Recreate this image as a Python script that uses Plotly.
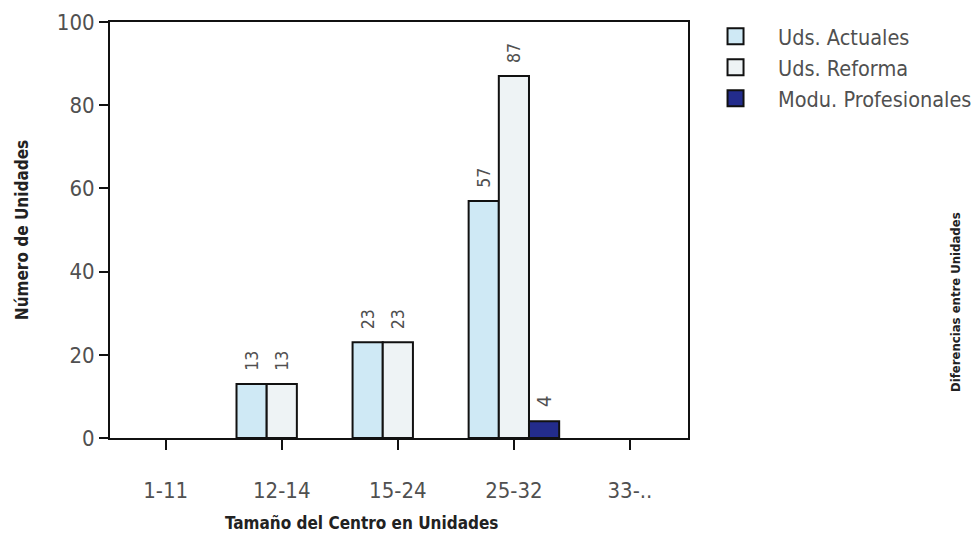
import plotly.graph_objects as go

categories = ["1-11", "12-14", "15-24", "25-32", "33-.."]
uds_actuales = [None, 13, 23, 57, None]
uds_reforma = [None, 13, 23, 87, None]
modu_profesionales = [None, None, None, 4, None]
y_ticks = [0, 20, 40, 60, 80, 100]

FONT = "DejaVu Sans Condensed, Roboto, sans-serif"
TXT = "#505050"

def labels(vals):
    return ["\u00a0\u00a0" + str(v) if v else "" for v in vals]

series = [
    ("Uds. Actuales", uds_actuales, "#cfe9f5"),
    ("Uds. Reforma", uds_reforma, "#eef3f5"),
    ("Modu. Profesionales", modu_profesionales, "#232c8c"),
]

fig = go.Figure()
for name, vals, col in series:
    fig.add_trace(go.Bar(
        x=categories, y=vals, name=name, showlegend=False,
        marker=dict(color=col, line=dict(color="#111111", width=2)),
        text=labels(vals), textposition="outside", textangle=-90,
        textfont=dict(family=FONT, size=20, color=TXT),
        cliponaxis=False,
    ))
for name, vals, col in series:
    fig.add_trace(go.Scatter(
        x=[None], y=[None], mode="markers", name=name,
        marker=dict(symbol="square", size=19, color=col,
                    line=dict(color="#111111", width=2)),
    ))

fig.update_layout(
    width=974, height=541,
    margin=dict(l=110, r=286, t=22, b=103, autoexpand=False),
    paper_bgcolor="white", plot_bgcolor="white",
    barmode="group", bargap=0.22, bargroupgap=0,
    font=dict(family=FONT, color=TXT, size=18),
    legend=dict(x=1.0087, y=1.015, xanchor="left", yanchor="top",
                font=dict(family=FONT, size=21.5, color=TXT),
                itemsizing="trace", itemwidth=75, tracegroupgap=0),
    xaxis=dict(
        range=[-0.48, 4.5], showline=True, linecolor="#111111", linewidth=2,
        mirror=True, ticks="outside", ticklen=10, tickwidth=2, tickcolor="#111111",
        ticklabelstandoff=22, tickfont=dict(family=FONT, size=22, color=TXT),
        automargin=False, showgrid=False,
    ),
    yaxis=dict(
        range=[0, 100], tickvals=y_ticks, showline=True, linecolor="#111111",
        linewidth=2, mirror=True, ticks="outside", ticklen=9, tickwidth=2,
        tickcolor="#111111", tickfont=dict(family=FONT, size=22, color=TXT),
        title=dict(text="<b>Número de Unidades</b>", standoff=24,
                   font=dict(family=FONT, size=17, color="#222222")),
        automargin=False, showgrid=False, zeroline=False,
    ),
    annotations=[
        dict(text="<b>Diferencias entre Unidades</b>", x=(955 - 110) / 578,
             y=(541 - 103 - 302) / 416, xref="paper", yref="paper",
             showarrow=False, textangle=-90, xanchor="center", yanchor="middle",
             font=dict(family=FONT, size=13, color="#222222")),
        dict(text="<b>Tamaño del Centro en Unidades</b>", x=(361 - 110) / 578,
             y=(541 - 103 - 523) / 416, xref="paper", yref="paper",
             showarrow=False, xanchor="center", yanchor="middle",
             font=dict(family=FONT, size=17, color="#222222")),
    ],
)

fig.write_html("out.html", config={"displayModeBar": False},
               post_script="document.body.style.margin='0';document.body.style.overflow='hidden';")
